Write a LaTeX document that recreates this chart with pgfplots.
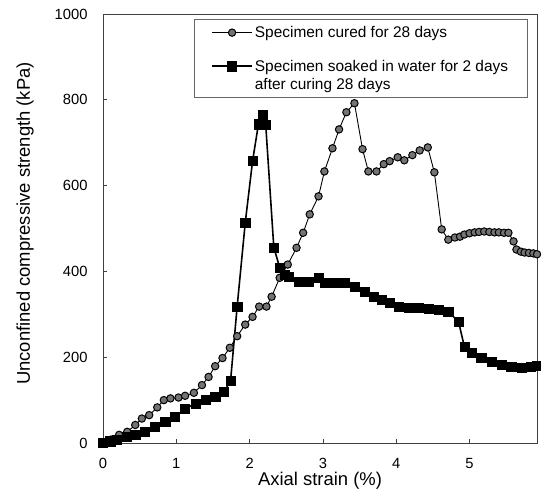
\documentclass[border=0pt]{standalone}
\usepackage{fontspec}
\setmainfont{Liberation Sans}
\usepackage{pgfplots}
\pgfplotsset{compat=1.18}
\usetikzlibrary{calc}

\pgfplotsset{
    raised legend/.style={
        legend image code/.code={
            \draw[mark repeat=2, mark phase=2, ##1]
                plot coordinates {(0bp,9bp) (20bp,9bp) (40bp,9bp)};}},
}

\begin{document}
\begin{tikzpicture}
\begin{axis}[
    name=ax,
    scale only axis,
    width=434bp, height=429bp,
    xmin=0, xmax=5.92,
    ymin=0, ymax=1000,
    xtick={0,1,2,3,4,5},
    ytick={0,200,400,600,800,1000},
    xtick pos=bottom, ytick pos=left,
    tick align=inside,
    major tick length=4bp,
    axis line style={black!75, line width=0.7pt},
    tick style={black!75, line width=0.6pt},
    /pgf/number format/assume math mode=true,
    /pgf/number format/1000 sep={},
    tick label style={font=\fontsize{14.8}{16}\selectfont},
    xticklabel style={yshift=-12bp},
    yticklabel style={xshift=-12bp},
    xlabel={Axial strain (\%)},
    ylabel={Unconfined compressive strength (kPa)},
    every axis x label/.style={at={(axis description cs:0.5,0)}, anchor=center,
        yshift=-38bp, font=\fontsize{18.5}{20}\selectfont},
    every axis y label/.style={at={(axis description cs:0,0.5)},
        xshift=-78bp, yshift=5bp, rotate=90, anchor=center,
        font=\fontsize{18.5}{20}\selectfont},
    legend cell align=left,
    legend style={at={(axis description cs:0,1)}, anchor=north west,
        xshift=91bp, yshift=-5bp,
        draw=black!60, line width=0.6pt,
        font=\fontsize{15.5}{18}\selectfont,
        inner xsep=17bp, inner ysep=5bp, row sep=17bp},
    legend image code/.code={
        \draw[mark repeat=2, mark phase=2, #1]
            plot coordinates {(0bp,0bp) (20bp,0bp) (40bp,0bp)};},
    clip=false,
]

% cured for 28 days
\addplot[black, line width=0.9pt, mark=*, mark size=3.7bp,
    mark options={fill=black!55, draw=black, line width=1pt}] coordinates {
    (0,0) (0.11,8) (0.22,19) (0.33,26) (0.44,42) (0.53,57) (0.63,65) (0.74,83)
    (0.83,100) (0.92,104) (1.03,106) (1.12,110) (1.24,117) (1.35,135) (1.44,154)
    (1.53,179) (1.63,198) (1.73,222) (1.83,249) (1.94,276) (2.04,294) (2.13,318)
    (2.23,318) (2.30,341) (2.41,385) (2.52,416) (2.64,455) (2.73,490) (2.82,533)
    (2.94,575) (3.02,633) (3.13,687) (3.22,731) (3.32,771) (3.43,792) (3.54,685)
    (3.62,633) (3.73,633) (3.83,650) (3.91,657) (4.02,666) (4.11,659) (4.22,671)
    (4.32,682) (4.43,689) (4.52,631) (4.62,498) (4.71,474) (4.80,479) (4.87,481)
    (4.93,486) (5.00,489) (5.07,491) (5.13,492) (5.20,493) (5.27,492) (5.34,491)
    (5.40,491) (5.47,490) (5.53,490) (5.60,470) (5.64,451) (5.70,446) (5.75,444)
    (5.81,443) (5.87,442) (5.92,440)
};
\addlegendentry{Specimen cured for 28 days}

% soaked in water
\addplot[black, line width=1.6pt, mark=square*, mark size=4.6bp,
    mark options={fill=black, draw=black, line width=0.5pt},
    raised legend] coordinates {
    (0,0) (0.10,4) (0.19,8) (0.32,14) (0.44,19) (0.57,26) (0.71,37) (0.85,49)
    (0.98,61) (1.12,79) (1.26,92) (1.40,100) (1.53,107) (1.65,119) (1.74,145)
    (1.83,318) (1.94,513) (2.04,657) (2.12,743) (2.18,766) (2.22,741)
    (2.33,456) (2.41,409) (2.48,392) (2.53,388) (2.67,376) (2.80,376) (2.94,385)
    (3.02,374) (3.16,374) (3.30,374) (3.43,365) (3.57,353) (3.69,341) (3.80,334)
    (3.91,327) (4.03,318) (4.17,315) (4.31,315) (4.44,313) (4.58,311) (4.71,306)
    (4.85,283) (4.93,224) (5.03,210) (5.16,199) (5.30,189) (5.44,182) (5.57,178)
    (5.71,175) (5.84,178) (5.92,181)
};
\addlegendentry[align=left]{Specimen soaked in water for 2 days\\after curing 28 days}

\end{axis}
\pgfresetboundingbox
\useasboundingbox ($(ax.south west)+(-103bp,-51bp)$) rectangle ($(ax.north east)+(4bp,14bp)$);
\end{tikzpicture}
\end{document}
